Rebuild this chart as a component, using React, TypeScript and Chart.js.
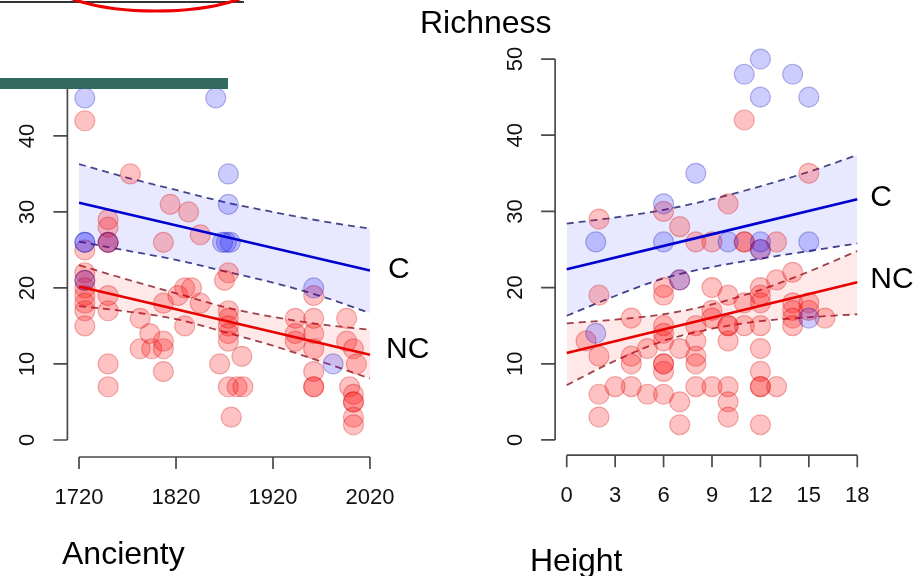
import { useEffect, useRef } from 'react';
import { Chart, registerables } from 'chart.js';
Chart.register(...registerables);

const FONT = '"Liberation Sans", Arial, Helvetica, sans-serif';

// ---------- Ancienty panel data ----------
const ancientyXTicks = [1720, 1820, 1920, 2020];
const ancientyYTicks = [0, 10, 20, 30, 40];
const ancientyNC: [number, number][] = [
  [1726, 42], [1726, 25], [1726, 22], [1726, 21], [1726, 20], [1726, 19], [1726, 18], [1726, 17], [1726, 15],
  [1750, 29], [1750, 28], [1750, 26], [1750, 26], [1750, 19], [1750, 17], [1750, 10], [1750, 7],
  [1773, 35], [1783, 16], [1783, 12], [1793, 14], [1795, 12],
  [1807, 26], [1807, 18], [1807, 13], [1807, 12], [1807, 9],
  [1814, 31], [1822, 19], [1829, 20], [1829, 15], [1833, 30], [1836, 20], [1845, 27], [1845, 18],
  [1865, 10], [1870, 21], [1874, 22], [1874, 17], [1874, 16], [1874, 15], [1874, 14], [1874, 13], [1874, 7],
  [1877, 3], [1883, 7], [1888, 11], [1889, 7],
  [1943, 16], [1943, 14], [1943, 13],
  [1962, 19], [1962, 16], [1962, 14], [1962, 12], [1962, 9], [1962, 7], [1962, 7],
  [1996, 16], [1996, 13], [1999, 7],
  [2003, 12], [2003, 6], [2003, 5], [2003, 5], [2003, 3], [2003, 2], [2006, 10],
];
const ancientyC: [number, number][] = [
  [1726, 45], [1726, 26], [1726, 26], [1726, 21], [1750, 26], [1861, 45], [1874, 35], [1874, 31],
  [1868, 26], [1872, 26], [1876, 26], [1962, 20], [1982, 10],
];
const ancientyFitX = [1720, 2020];
const ancientyFitC = [31.2, 22.3];
const ancientyFitNC = [20.2, 11.2];
const ancientyBandX = [1720, 1770, 1820, 1870, 1920, 1970, 2020];
const ancientyCUpper = [36.3, 34.5, 32.9, 31.3, 30.0, 28.8, 27.8];
const ancientyCLower = [26.1, 24.9, 23.7, 22.2, 20.7, 18.9, 16.7];
const ancientyNCUpper = [23.0, 21.1, 19.3, 17.5, 16.2, 15.2, 14.5];
const ancientyNCLower = [17.6, 16.9, 15.9, 14.2, 12.4, 10.3, 8.1];

// ---------- Height panel data ----------
const heightXTicks = [0, 3, 6, 9, 12, 15, 18];
const heightYTicks = [0, 10, 20, 30, 40, 50];
const heightNC: [number, number][] = [
  [1.2, 13], [2, 29], [2, 19], [2, 11], [2, 6], [2, 3], [3, 7], [4, 16], [4, 11], [4, 10], [4, 7], [5, 12], [5, 6],
  [6, 30], [6, 20], [6, 19], [6, 15], [6, 14], [6, 13], [6, 10], [6, 10], [6, 9], [6, 6],
  [7, 28], [7, 21], [7, 12], [7, 5], [7, 2],
  [8, 26], [8, 15], [8, 13], [8, 11], [8, 10], [8, 7],
  [9, 26], [9, 20], [9, 17], [9, 16], [9, 7],
  [10, 31], [10, 19], [10, 15], [10, 15], [10, 13], [10, 7], [10, 5], [10, 3],
  [11, 42], [11, 26], [11, 26], [11, 18], [11, 15],
  [12, 25], [12, 20], [12, 19], [12, 18], [12, 15], [12, 12], [12, 9], [12, 7], [12, 7], [12, 2],
  [13, 26], [13, 21], [13, 7],
  [14, 22], [14, 18], [14, 17], [14, 16], [14, 15],
  [15, 35], [15, 18], [15, 17], [16, 16],
];
const heightC: [number, number][] = [
  [1.8, 26], [1.8, 14], [6, 31], [6, 26], [7, 21], [8, 35], [10, 26], [11, 48],
  [12, 50], [12, 45], [12, 26], [12, 25], [14, 48], [15, 45], [15, 26], [15, 16],
];
const heightFitX = [0, 18];
const heightFitC = [22.4, 31.6];
const heightFitNC = [11.4, 20.7];
const heightBandX = [0, 3, 6, 9, 12, 15, 18];
const heightCUpper = [28.4, 29.2, 30.2, 31.6, 33.3, 35.2, 37.4];
const heightCLower = [16.3, 18.9, 21.2, 22.7, 23.8, 24.8, 25.8];
const heightNCUpper = [15.3, 15.8, 16.5, 17.8, 19.7, 22.1, 24.8];
const heightNCLower = [7.2, 10.4, 13.0, 14.6, 15.6, 16.1, 16.5];

const toXY = (xs: number[], ys: number[]) => xs.map((x, i) => ({ x, y: ys[i] }));
const pairs = (p: [number, number][]) => p.map(([x, y]) => ({ x, y }));

function makeAxesPlugin(cfg: {
  xTicks: number[];
  yTicks: number[];
  yLineToTop: boolean;
  labels: { text: string; x: number; y: number; dx: number; dy: number }[];
}) {
  return {
    id: 'rAxes',
    afterDraw(chart: any) {
      const ctx = chart.ctx as CanvasRenderingContext2D;
      const xs = chart.scales.x;
      const ys = chart.scales.y;
      const a = chart.chartArea;
      ctx.save();
      ctx.strokeStyle = '#4a4a4a';
      ctx.lineWidth = 1.7;
      // x axis
      const yAx = a.bottom;
      ctx.beginPath();
      ctx.moveTo(xs.getPixelForValue(cfg.xTicks[0]), yAx);
      ctx.lineTo(xs.getPixelForValue(cfg.xTicks[cfg.xTicks.length - 1]), yAx);
      for (const t of cfg.xTicks) {
        const px = xs.getPixelForValue(t);
        ctx.moveTo(px, yAx);
        ctx.lineTo(px, yAx + 12);
      }
      // y axis
      const xAx = a.left;
      ctx.moveTo(xAx, ys.getPixelForValue(cfg.yTicks[0]));
      ctx.lineTo(xAx, cfg.yLineToTop ? a.top : ys.getPixelForValue(cfg.yTicks[cfg.yTicks.length - 1]));
      for (const t of cfg.yTicks) {
        const py = ys.getPixelForValue(t);
        ctx.moveTo(xAx - 14, py);
        ctx.lineTo(xAx, py);
      }
      ctx.stroke();

      ctx.fillStyle = '#111';
      ctx.font = `22px ${FONT}`;
      ctx.textAlign = 'center';
      ctx.textBaseline = 'alphabetic';
      for (const t of cfg.xTicks) ctx.fillText(String(t), xs.getPixelForValue(t), yAx + 47);
      for (const t of cfg.yTicks) {
        ctx.save();
        ctx.translate(xAx - 33, ys.getPixelForValue(t));
        ctx.rotate(-Math.PI / 2);
        ctx.fillText(String(t), 0, 0);
        ctx.restore();
      }
      ctx.font = `30px ${FONT}`;
      ctx.textAlign = 'left';
      ctx.textBaseline = 'middle';
      ctx.fillStyle = '#000';
      for (const l of cfg.labels) {
        ctx.fillText(l.text, xs.getPixelForValue(l.x) + l.dx, ys.getPixelForValue(l.y) + l.dy);
      }
      ctx.restore();
    },
  };
}

function buildDatasets(p: {
  fitX: number[]; fitC: number[]; fitNC: number[];
  bandX: number[]; cU: number[]; cL: number[]; ncU: number[]; ncL: number[];
  nc: [number, number][]; c: [number, number][];
}) {
  const lineBase = { pointRadius: 0, clip: false as any, cubicInterpolationMode: 'monotone' as const };
  return [
    { ...lineBase, data: toXY(p.fitX, p.fitC), borderColor: '#0000d0', borderWidth: 2.6, fill: false, order: 0 },
    { ...lineBase, data: toXY(p.fitX, p.fitNC), borderColor: '#e80000', borderWidth: 2.6, fill: false, order: 0 },
    { ...lineBase, data: toXY(p.bandX, p.cU), borderColor: '#464688', borderWidth: 1.8, borderDash: [7, 5], fill: '+1', backgroundColor: 'rgba(0,0,255,0.09)', order: 3 },
    { ...lineBase, data: toXY(p.bandX, p.cL), borderColor: '#464688', borderWidth: 1.8, borderDash: [7, 5], fill: false, order: 3 },
    { ...lineBase, data: toXY(p.bandX, p.ncU), borderColor: '#a0424c', borderWidth: 1.8, borderDash: [7, 5], fill: '+1', backgroundColor: 'rgba(255,0,0,0.09)', order: 3 },
    { ...lineBase, data: toXY(p.bandX, p.ncL), borderColor: '#a0424c', borderWidth: 1.8, borderDash: [7, 5], fill: false, order: 3 },
    { data: pairs(p.nc), showLine: false, clip: false as any, pointRadius: 10, pointBorderWidth: 1.2, pointBackgroundColor: 'rgba(255,0,0,0.24)', pointBorderColor: 'rgba(210,0,0,0.3)', order: 2 },
    { data: pairs(p.c), showLine: false, clip: false as any, pointRadius: 10, pointBorderWidth: 1.2, pointBackgroundColor: 'rgba(0,0,255,0.2)', pointBorderColor: 'rgba(0,0,160,0.28)', order: 1 },
  ];
}

export default function App() {
  const leftRef = useRef<HTMLCanvasElement>(null);
  const rightRef = useRef<HTMLCanvasElement>(null);

  useEffect(() => {
    const common = {
      animation: false as const,
      responsive: false,
      maintainAspectRatio: false,
      events: [] as any[],
      plugins: { legend: { display: false }, tooltip: { enabled: false } },
    };
    const left = new Chart(leftRef.current!, {
      type: 'line',
      data: {
        datasets: buildDatasets({
          fitX: ancientyFitX, fitC: ancientyFitC, fitNC: ancientyFitNC,
          bandX: ancientyBandX, cU: ancientyCUpper, cL: ancientyCLower, ncU: ancientyNCUpper, ncL: ancientyNCLower,
          nc: ancientyNC, c: ancientyC,
        }) as any,
      },
      options: {
        ...common,
        layout: { padding: { left: 67.4, right: 78.4, top: 89, bottom: 119 } },
        scales: {
          x: { type: 'linear', min: 1708, max: 2032, display: false },
          y: { type: 'linear', min: -2.24, max: 46.18, display: false },
        },
      } as any,
      plugins: [makeAxesPlugin({
        xTicks: ancientyXTicks, yTicks: ancientyYTicks, yLineToTop: true,
        labels: [
          { text: 'C', x: ancientyFitX[1], y: ancientyFitC[1], dx: 18, dy: -1 },
          { text: 'NC', x: ancientyFitX[1], y: ancientyFitNC[1], dx: 16, dy: -5 },
        ],
      })],
    });
    const right = new Chart(rightRef.current!, {
      type: 'line',
      data: {
        datasets: buildDatasets({
          fitX: heightFitX, fitC: heightFitC, fitNC: heightFitNC,
          bandX: heightBandX, cU: heightCUpper, cL: heightCLower, ncU: heightNCUpper, ncL: heightNCLower,
          nc: heightNC, c: heightC,
        }) as any,
      },
      options: {
        ...common,
        layout: { padding: { left: 95.1, right: 55.1, top: 43.8, bottom: 120.8 } },
        scales: {
          x: { type: 'linear', min: -0.72, max: 18.72, display: false },
          y: { type: 'linear', min: -2, max: 52, display: false },
        },
      } as any,
      plugins: [makeAxesPlugin({
        xTicks: heightXTicks, yTicks: heightYTicks, yLineToTop: false,
        labels: [
          { text: 'C', x: heightFitX[1], y: heightFitC[1], dx: 13, dy: -1 },
          { text: 'NC', x: heightFitX[1], y: heightFitNC[1], dx: 13, dy: -3 },
        ],
      })],
    });
    return () => {
      left.destroy();
      right.destroy();
    };
  }, []);

  const textBase: any = { position: 'absolute', fontFamily: FONT, fontSize: 32, lineHeight: '32px', color: '#000', whiteSpace: 'nowrap' };

  return (
    <div style={{ position: 'absolute', left: 0, top: 0, width: 924, height: 576, overflow: 'hidden', background: '#fff' }}>
      <canvas ref={leftRef} width={460} height={576} style={{ position: 'absolute', left: 0, top: 0, width: 460, height: 576 }} />
      <canvas ref={rightRef} width={464} height={576} style={{ position: 'absolute', left: 460, top: 0, width: 464, height: 576 }} />
      <div style={{ position: 'absolute', left: 0, top: 1, width: 244, height: 2, background: '#333' }} />
      <svg width={300} height={20} style={{ position: 'absolute', left: 0, top: 0 }}>
        <ellipse cx={156} cy={-25} rx={112} ry={36} fill="none" stroke="#ee0000" strokeWidth={3} />
      </svg>
      <div style={{ position: 'absolute', left: 0, top: 78, width: 228, height: 11, background: '#336a5f' }} />
      <div style={{ ...textBase, left: 420, top: 6 }}>Richness</div>
      <div style={{ ...textBase, left: 62, top: 537 }}>Ancienty</div>
      <div style={{ ...textBase, left: 530, top: 544 }}>Height</div>
    </div>
  );
}
